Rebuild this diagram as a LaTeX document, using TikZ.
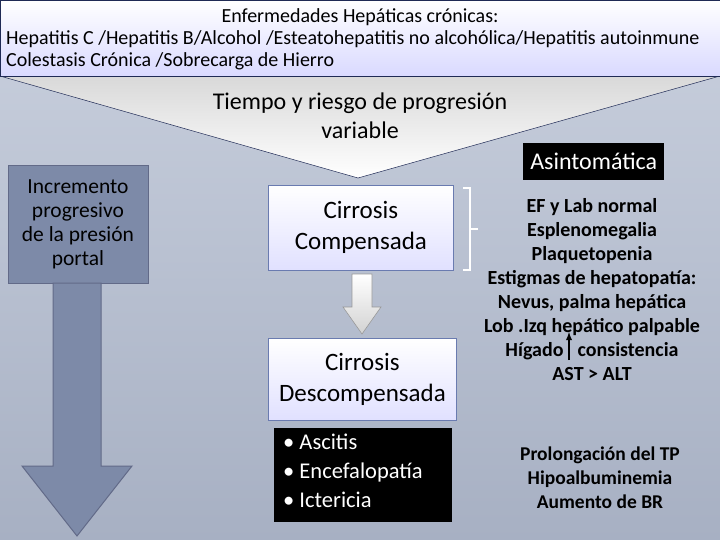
\documentclass[tikz,border=0pt]{standalone}
\usepackage{fontspec}
\setmainfont{Carlito}
\definecolor{bgtop}{HTML}{C9D0DE}
\definecolor{bgbot}{HTML}{A7B0C3}
\definecolor{navy}{HTML}{1F2A55}
\definecolor{portal}{HTML}{7D8AA8}
\definecolor{boxedge}{HTML}{6A7BB0}
\tikzset{
 cbox/.style={draw=boxedge,line width=0.8pt,top color=white,bottom color=blue!12,inner sep=0},
 blk/.style={fill=black,text=white},
 rtext/.style={align=center,font=\bfseries\fontsize{20}{24}\selectfont},
}
\begin{document}
\begin{tikzpicture}[x=1pt,y=-1pt]
\useasboundingbox (0,0) rectangle (720,540);
\shade[top color=bgtop,bottom color=bgbot] (0,0) rectangle (720,540);
% funnel
\draw[navy,line width=0.5pt,top color=gray!30,bottom color=white] (0,76) -- (720,76) -- (358,178) -- cycle;
% top box
\node[draw=navy,line width=1pt,top color=white,bottom color=blue!15,minimum width=720,minimum height=76,inner sep=0,anchor=north west] (top) at (0,0) {};
\node[font=\fontsize{20}{21}\selectfont] (t1) at (360,17) {Enfermedades Hepáticas crónicas:};
\node[font=\fontsize{20}{21}\selectfont,anchor=west,inner sep=0] (t2) at (6,39) {Hepatitis C /Hepatitis B/Alcohol /Esteatohepatitis no alcohólica/Hepatitis autoinmune};
\node[font=\fontsize{20}{21}\selectfont,anchor=west,inner sep=0] (t3) at (6,61) {Colestasis Crónica /Sobrecarga de Hierro};
\node[align=center,font=\fontsize{24}{29}\selectfont] (tiempo) at (360,116) {Tiempo y riesgo de progresión\\variable};
% left
\node[draw=navy!70,fill=portal,line width=1pt,minimum width=140,minimum height=118,inner sep=0,anchor=north west] (inc) at (8,165) {};
\node[align=center,font=\fontsize{21.5}{24}\selectfont] (inct) at (78,224) {Incremento\\progresivo\\de la presión\\portal};
\draw[navy!70,fill=portal,line width=1pt] (53,283) -- (101,283) -- (101,466) -- (132,466) -- (77,536) -- (22,466) -- (53,466) -- cycle;
% boxes
\node[cbox,minimum width=185,minimum height=85,anchor=north west] (comp) at (268,185) {};
\node[align=center,font=\fontsize{25}{31}\selectfont] at (comp) {Cirrosis\\Compensada};
\node[cbox,minimum width=188,minimum height=82,anchor=north west] (desc) at (268,338) {};
\node[align=center,font=\fontsize{25}{31}\selectfont] at (desc) {Cirrosis\\Descompensada};
\draw[gray!80,top color=white,bottom color=gray!35,line width=0.6pt] (352,274) -- (372,274) -- (372,307) -- (381,307) -- (362,334) -- (343,307) -- (352,307) -- cycle;
\node[blk,minimum width=178,minimum height=94,inner sep=0,anchor=north west] (sym) at (274,428) {};
\node[text=white,align=left,anchor=north west,font=\fontsize{22.5}{29}\selectfont,inner sep=0] (symt) at (283,434) {• Ascitis\\• Encefalopatía\\• Ictericia};
% bracket
\draw[white,line width=1.2pt] (463,188) -- (470,188) -- (470,270) -- (463,270);
\draw[white,line width=1.2pt] (470,229) -- (478,229);
% right
\node[blk,minimum width=141,minimum height=37,font=\fontsize{24}{26}\selectfont,inner sep=0,anchor=north west] (asin) at (523,143) {Asintomática};
\node[rtext] (rt) at (592,290) {EF y Lab normal\\Esplenomegalia\\Plaquetopenia\\Estigmas de hepatopatía:\\Nevus, palma hepática\\Lob .Izq hepático palpable\\Hígado\hspace{14pt}consistencia\\AST > ALT};
\coordinate (ua) at (569,360);
\coordinate (ub) at (569,332);
\draw[-latex,line width=1.8pt] (ua) -- (ub);
\node[rtext,font=\bfseries\fontsize{19.5}{24}\selectfont] (rt2) at (600,478) {Prolongación del TP\\Hipoalbuminemia\\Aumento de BR};
\end{tikzpicture}
\end{document}
